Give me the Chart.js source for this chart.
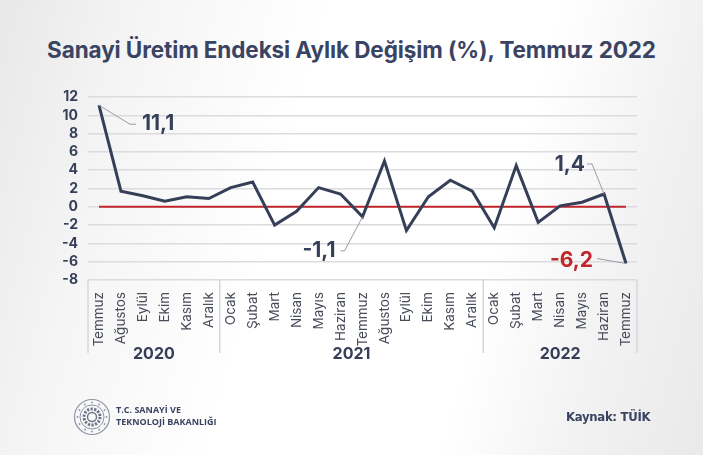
<!DOCTYPE html>
<html lang="tr">
<head>
<meta charset="utf-8">
<title>Sanayi Üretim Endeksi Aylık Değişim</title>
<script src="https://cdn.jsdelivr.net/npm/chart.js@4.4.0/dist/chart.umd.min.js"></script>
<style>
    html, body { margin: 0; padding: 0; }
    body {
        width: 703px; height: 455px; position: relative; overflow: hidden;
        background: linear-gradient(105deg, #e8e8e9 0%, #f5f5f6 18%, #ffffff 40%, #ffffff 68%, #f2f2f3 84%, #e9e9ea 100%);
        font-family: Inter, "Open Sans", sans-serif;
    }
    #baslik {
        position: absolute; left: 0; top: 36px; width: 703px; text-align: center;
        font: 700 22.5px Inter, sans-serif; color: #3a4462; letter-spacing: -0.1px;
    }
    #grafik { position: absolute; left: 0; top: 0; }
    #logo { position: absolute; left: 73px; top: 398px; }
    #bakanlik {
        position: absolute; left: 116px; top: 404px;
        font: 700 9px "Open Sans", sans-serif; line-height: 12px; color: #3a4462;
    }
    #kaynak {
        position: absolute; left: 566px; top: 409px;
        font: 700 13px "DejaVu Sans Condensed", "Liberation Sans Narrow", sans-serif; color: #3a4462;
        letter-spacing: -0.3px;
    }
</style>
</head>
<body>
<div id="baslik">Sanayi Üretim Endeksi Aylık Değişim (%), Temmuz 2022</div>
<canvas id="grafik" width="703" height="455"></canvas>

<svg id="logo" width="38" height="38" viewBox="0 0 38 38">
    <circle cx="19" cy="19" r="17.5" fill="none" stroke="#8c93a3" stroke-width="1.2"/>
    <circle cx="19" cy="19" r="12" fill="none" stroke="#8c93a3" stroke-width="1"/>
    <circle cx="19" cy="19" r="8" fill="none" stroke="#6d7486" stroke-width="3" stroke-dasharray="2.2 1.4"/>
    <circle cx="19" cy="19" r="4.5" fill="none" stroke="#6d7486" stroke-width="1.4"/>
    <g fill="#8c93a3">
        <circle cx="19" cy="4.5" r="0.9"/><circle cx="26" cy="6.5" r="0.9"/><circle cx="31.5" cy="12" r="0.9"/>
        <circle cx="33.5" cy="19" r="0.9"/><circle cx="31.5" cy="26" r="0.9"/><circle cx="26" cy="31.5" r="0.9"/>
        <circle cx="19" cy="33.5" r="0.9"/><circle cx="12" cy="31.5" r="0.9"/><circle cx="6.5" cy="26" r="0.9"/>
        <circle cx="4.5" cy="19" r="0.9"/><circle cx="6.5" cy="12" r="0.9"/><circle cx="12" cy="6.5" r="0.9"/>
    </g>
</svg>
<div id="bakanlik">T.C. SANAYİ VE<br>TEKNOLOJİ BAKANLIĞI</div>
<div id="kaynak">Kaynak: TÜİK</div>

<script>
// ---------------- Data ----------------
const aylar = ['Temmuz', 'Ağustos', 'Eylül', 'Ekim', 'Kasım', 'Aralık',
    'Ocak', 'Şubat', 'Mart', 'Nisan', 'Mayıs', 'Haziran', 'Temmuz', 'Ağustos', 'Eylül', 'Ekim', 'Kasım', 'Aralık',
    'Ocak', 'Şubat', 'Mart', 'Nisan', 'Mayıs', 'Haziran', 'Temmuz'];
const yillar = ['2020', '2021', '2022'];
const yilAySayisi = [6, 12, 7];
const degisim = [11.1, 1.7, 1.2, 0.6, 1.1, 0.9,
    2.1, 2.7, -2.0, -0.5, 2.1, 1.4, -1.1, 5.0, -2.6, 1.1, 2.9, 1.7,
    -2.3, 4.5, -1.7, 0.1, 0.5, 1.4, -6.2];
const yTicks = [12, 10, 8, 6, 4, 2, 0, -2, -4, -6, -8];
// etiketi olan noktalar
const etiketliNoktalar = [0, 12, 23, 24];

// ---------------- Styles ----------------
const lacivert = '#363f58';
const kirmizi = '#c0262c';
// etiket yerleşimi (nokta pikseline göre): dirsek, uç, yazı, hizalama, renk
const etiketYerlesim = {
    0:  { dirsek: [31, 19], uc: [37, 19], yazi: [43, 18], hiza: 'left', renk: lacivert },
    12: { dirsek: [-18, 34], uc: [-22, 34], yazi: [-27, 34], hiza: 'right', renk: lacivert },
    23: { dirsek: [-12, -30], uc: [-17, -30], yazi: [-19, -29], hiza: 'right', renk: lacivert },
    24: { dirsek: null, uc: [-29, -5], yazi: [-33, -3], hiza: 'right', renk: kirmizi }
};

// Sıfır çizgisi, yıl kutuları ve etiketler için eklenti
const ekCizimler = {
    id: 'ekCizimler',
    beforeDatasetsDraw(chart) {
        const ctx = chart.ctx;
        const x = chart.scales.x, y = chart.scales.y;
        // kırmızı sıfır çizgisi
        ctx.save();
        ctx.strokeStyle = kirmizi;
        ctx.lineWidth = 2;
        ctx.beginPath();
        ctx.moveTo(x.getPixelForValue(0), y.getPixelForValue(0));
        ctx.lineTo(x.getPixelForValue(aylar.length - 1), y.getPixelForValue(0));
        ctx.stroke();
        ctx.restore();
    },
    afterDraw(chart) {
        const ctx = chart.ctx;
        const x = chart.scales.x, y = chart.scales.y;
        const alan = chart.chartArea;
        ctx.save();

        // yıl ayırıcı çizgileri ve yıl yazıları
        ctx.strokeStyle = '#d6d7da';
        ctx.lineWidth = 1.5;
        let bas = 0;
        const sinirlar = [alan.left];
        yillar.forEach((yil, k) => {
            const son = bas + yilAySayisi[k] - 1;
            const orta = (x.getPixelForValue(bas) + x.getPixelForValue(son)) / 2;
            ctx.fillStyle = lacivert;
            ctx.font = '700 16px Inter, sans-serif';
            ctx.textAlign = 'center';
            ctx.textBaseline = 'middle';
            ctx.fillText(yil, orta, 354);
            if (k < yillar.length - 1) {
                sinirlar.push((x.getPixelForValue(son) + x.getPixelForValue(son + 1)) / 2);
            }
            bas = son + 1;
        });
        sinirlar.push(alan.right);
        sinirlar.forEach(sx => {
            ctx.beginPath();
            ctx.moveTo(sx, alan.bottom);
            ctx.lineTo(sx, alan.bottom + 73);
            ctx.stroke();
        });

        // değer etiketleri ve kılavuz çizgileri
        etiketliNoktalar.forEach(i => {
            const p = etiketYerlesim[i];
            const px = x.getPixelForValue(i), py = y.getPixelForValue(degisim[i]);
            ctx.strokeStyle = '#9a9ca3';
            ctx.lineWidth = 1;
            ctx.beginPath();
            ctx.moveTo(px, py);
            if (p.dirsek) ctx.lineTo(px + p.dirsek[0], py + p.dirsek[1]);
            ctx.lineTo(px + p.uc[0], py + p.uc[1]);
            ctx.stroke();
            ctx.fillStyle = p.renk;
            ctx.font = '700 21px Inter, sans-serif';
            ctx.textAlign = p.hiza;
            ctx.textBaseline = 'middle';
            ctx.fillText(degisim[i].toFixed(1).replace('.', ','), px + p.yazi[0], py + p.yazi[1]);
        });
        ctx.restore();
    }
};

const ctx = document.getElementById('grafik').getContext('2d');
const grafik = new Chart(ctx, {
    type: 'line',
    data: {
        labels: aylar,
        datasets: [{
            label: 'Aylık değişim (%)',
            data: degisim,
            borderColor: lacivert,
            borderWidth: 3,
            pointRadius: 0,
            tension: 0,
            borderJoinStyle: 'miter'
        }]
    },
    options: {
        responsive: false,
        animation: false,
        devicePixelRatio: 1,
        layout: { padding: { top: 97, right: 66, left: 0, bottom: 0 } },
        plugins: { legend: { display: false }, tooltip: { enabled: false } },
        scales: {
            x: {
                offset: true,
                grid: { display: false },
                border: { display: false },
                ticks: {
                    autoSkip: false,
                    minRotation: 90,
                    maxRotation: 90,
                    padding: 4,
                    color: '#474c59',
                    font: { family: 'Inter, sans-serif', size: 13.5 }
                },
                afterFit: scale => { scale.height = 175; }
            },
            y: {
                min: -8,
                max: 12,
                afterBuildTicks: scale => { scale.ticks = yTicks.map(v => ({ value: v })); },
                grid: { color: '#dcdcdf', lineWidth: 1.5, drawTicks: false },
                border: { display: false },
                ticks: {
                    autoSkip: false,
                    padding: 10,
                    color: lacivert,
                    font: { family: 'Inter, sans-serif', size: 14, weight: '700' }
                },
                afterFit: scale => { scale.width = 88; }
            }
        }
    },
    plugins: [ekCizimler]
});
</script>
</body>
</html>
